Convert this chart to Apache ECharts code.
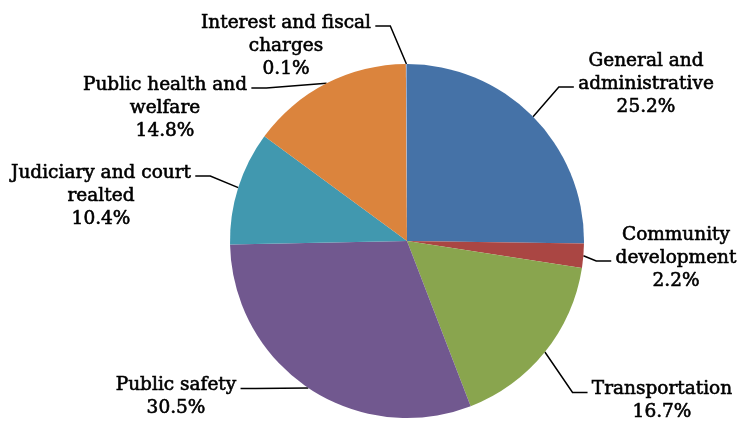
<!DOCTYPE html>
<html>
<head>
<meta charset="utf-8">
<script src="https://cdn.jsdelivr.net/npm/echarts@6/dist/echarts.min.js"></script>
<style>
  html, body { margin: 0; padding: 0; background: #fff; }
  #chart { width: 740px; height: 423px; }
</style>
</head>
<body>
<div id="chart"></div>
<script>
// 数据
var categories = [
  'General and\nadministrative',
  'Community\ndevelopment',
  'Transportation',
  'Public safety',
  'Judiciary and court\nrealted',
  'Public health and\nwelfare',
  'Interest and fiscal\ncharges'
]
var shares = [25.2, 2.2, 16.7, 30.5, 10.4, 14.8, 0.1]
var colors = ['#4572A7', '#AA4643', '#89A54E', '#71588F', '#4198AF', '#DB843D', '#93A9CF']

// 标签位置：[中心x, 中心y, 引线连接的行]
var labelPos = [
  [646, 84, 1],
  [676, 258, 1],
  [662, 401, 0],
  [176, 397, 0],
  [101, 196, 0],
  [165, 108, 0],
  [286, 46, 0]
]
var LINE_H = 23
var CX = 407

var chart = echarts.init(document.getElementById('chart'))

var data = []
for (var i = 0; i < shares.length; i++) {
  data.push({ name: categories[i], value: shares[i], itemStyle: { color: colors[i] } })
}

chart.setOption({
  animation: false,
  series: [{
    type: 'pie',
    center: [CX, 241],
    radius: 177,
    startAngle: 90,
    clockwise: true,
    avoidLabelOverlap: false,
    data: data,
    label: {
      show: true,
      position: 'outside',
      color: '#000',
      fontFamily: 'DejaVu Serif',
      fontSize: 18.5,
      textBorderColor: '#000',
      textBorderWidth: 0.6,
      lineHeight: LINE_H,
      align: 'center',
      formatter: function (p) {
        return p.name + '\n' + p.value.toFixed(1) + '%'
      }
    },
    labelLine: {
      show: true,
      lineStyle: { color: '#000', width: 1.5 }
    },
    labelLayout: function (params) {
      var pos = labelPos[params.dataIndex]
      var w = params.labelRect.width
      var h = params.labelRect.height
      var top = pos[1] - h / 2
      var y = top + LINE_H * (pos[2] + 0.5) + 3
      var anchor = params.labelLinePoints[0]
      var end, elbow
      if (pos[0] < CX) {
        end = [pos[0] + w / 2 + 4, y]
        elbow = [end[0] + 15, y]
      } else {
        end = [pos[0] - w / 2 - 4, y]
        elbow = [end[0] - 15, y]
      }
      return {
        x: pos[0],
        y: pos[1],
        align: 'center',
        verticalAlign: 'middle',
        labelLinePoints: [anchor, elbow, end]
      }
    }
  }]
})
</script>
</body>
</html>
